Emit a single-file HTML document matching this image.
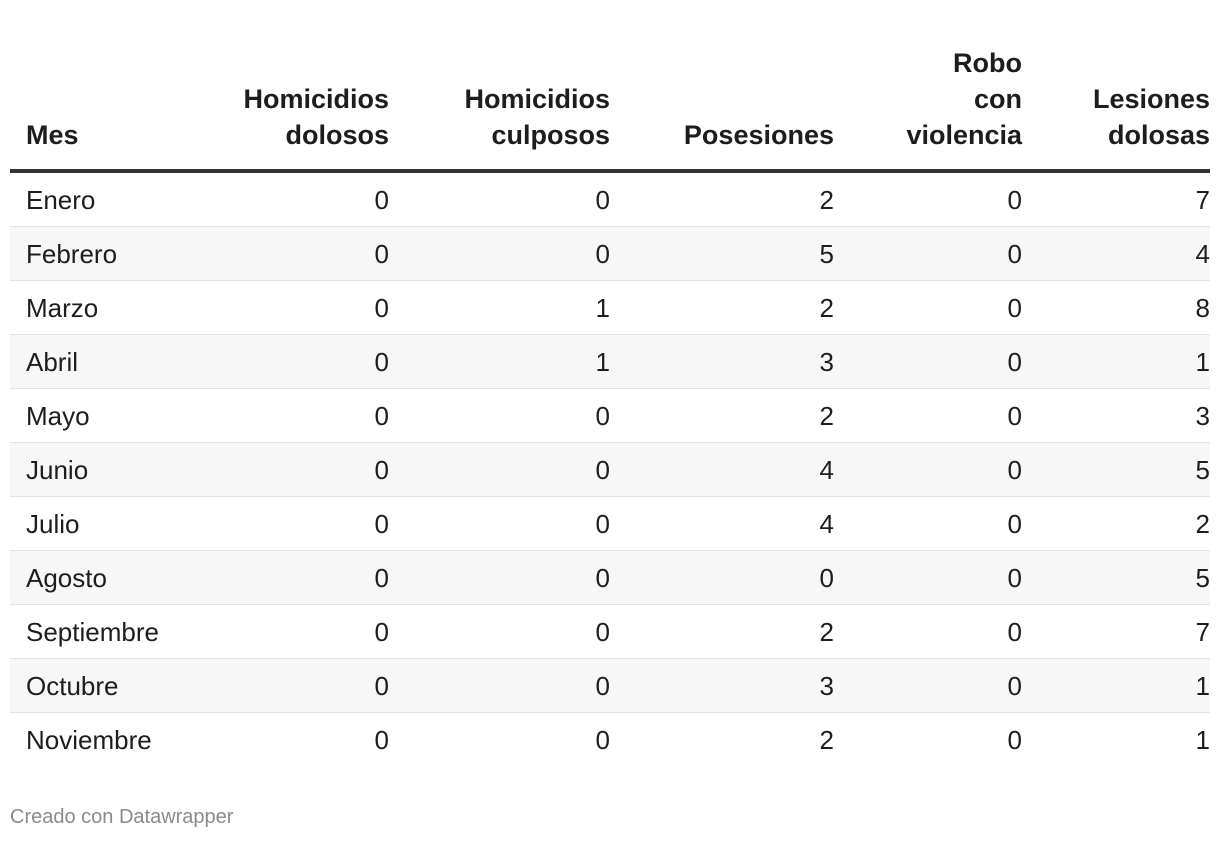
<!DOCTYPE html>
<html><head><meta charset="utf-8"><style>
body{margin:0;width:1220px;height:842px;background:#fff;font-family:"Liberation Sans",sans-serif;color:#1d1d1d;position:relative;overflow:hidden}
.h{position:absolute;font-weight:bold;font-size:27px;line-height:36px;text-align:right}
.c{position:absolute;font-size:26px;line-height:54px;height:54px}
.row{position:absolute;left:10px;width:1200px;height:53px;border-bottom:1px solid #e3e3e3}
</style></head><body>
<div id="tbl"></div>
<div style="position:absolute;left:10px;top:169px;width:1200px;height:4px;background:#333"></div>
<div style="position:absolute;left:10px;top:806px;font-size:20px;color:#8a8a8a">Creado con Datawrapper</div>
<script>
const months=["Enero","Febrero","Marzo","Abril","Mayo","Junio","Julio","Agosto","Septiembre","Octubre","Noviembre"];
const headers=[["Mes"],["Homicidios","dolosos"],["Homicidios","culposos"],["Posesiones"],["Robo","con","violencia"],["Lesiones","dolosas"]];
const homDolosos=[0,0,0,0,0,0,0,0,0,0,0];
const homCulposos=[0,0,1,1,0,0,0,0,0,0,0];
const posesiones=[2,5,2,3,2,4,4,0,2,3,2];
const robo=[0,0,0,0,0,0,0,0,0,0,0];
const lesiones=[7,4,8,1,3,5,2,5,7,1,1];
const cols=[homDolosos,homCulposos,posesiones,robo,lesiones];
const rights=[389,610,834,1022,1210];
const t=document.getElementById('tbl');
headers.forEach((h,i)=>{
  const d=document.createElement('div');d.className='h';
  
  
  d.innerHTML=h.join('<br>');
  const top=153-36*h.length;
  if(i===0){d.style.left='26px';d.style.textAlign='left';}
  else{d.style.right=(1220-rights[i-1])+'px';}
  d.style.top=top+'px';t.appendChild(d);
});
months.forEach((m,r)=>{
  const y=173+r*54;
  const row=document.createElement('div');row.className='row';
  
  
  row.style.top=y+'px';
  if(r%2===1)row.style.background='#f7f7f7';
  if(r===months.length-1)row.style.borderBottom='none';
  t.appendChild(row);
  const c=document.createElement('div');c.className='c';
  
  
  c.textContent=m;c.style.left='26px';c.style.top=y+'px';t.appendChild(c);
  cols.forEach((arr,j)=>{
    const v=document.createElement('div');v.className='c';
    
    
    v.textContent=arr[r];v.style.right=(1220-rights[j])+'px';v.style.top=y+'px';
    t.appendChild(v);
  });
});
</script>
</body></html>
